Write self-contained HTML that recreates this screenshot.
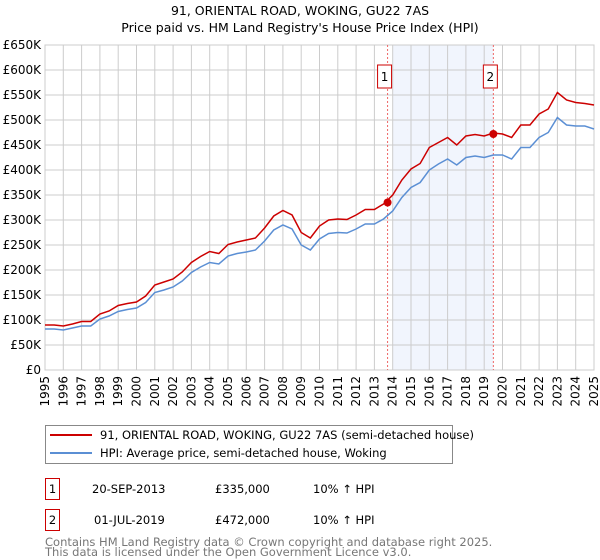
<!DOCTYPE html>
<html><head><meta charset="utf-8"><style>
body{margin:0;background:#fff;font-family:"Liberation Sans","DejaVu Sans",sans-serif;}
#wrap{position:relative;width:600px;height:560px;overflow:hidden;}
</style></head><body><div id="wrap">
<svg id="c" width="600" height="560" style="position:absolute;left:0;top:0;font-family:'DejaVu Sans','Liberation Sans',sans-serif"></svg>
</div>
<script>
const years=[1995,1995.5,1996,1996.5,1997,1997.5,1998,1998.5,1999,1999.5,2000,2000.5,2001,2001.5,2002,2002.5,2003,2003.5,2004,2004.5,2005,2005.5,2006,2006.5,2007,2007.5,2008,2008.5,2009,2009.5,2010,2010.5,2011,2011.5,2012,2012.5,2013,2013.5,2014,2014.5,2015,2015.5,2016,2016.5,2017,2017.5,2018,2018.5,2019,2019.5,2020,2020.5,2021,2021.5,2022,2022.5,2023,2023.5,2024,2024.5,2025];
const hpiValues=[82,82,80,84,88,88,102,108,117,121,124,135,155,160,166,178,195,206,215,212,228,233,236,240,258,280,290,282,250,240,262,273,275,274,282,292,292,302,318,345,365,375,400,412,422,410,425,428,425,430,430,422,445,445,465,475,505,490,488,488,482];
const priceValues=[90,90,88,92,97,97,112,118,129,133,136,148,170,176,182,196,215,227,237,233,251,256,260,264,284,308,319,310,275,264,288,300,302,301,310,321,321,332,350,380,402,413,445,455,465,450,468,471,468,474,472,465,490,490,512,522,555,540,535,533,530];
const yTicks=[0,50,100,150,200,250,300,350,400,450,500,550,600,650];
const yTickLabels=["£0","£50K","£100K","£150K","£200K","£250K","£300K","£350K","£400K","£450K","£500K","£550K","£600K","£650K"];
const xTicks=[1995,1996,1997,1998,1999,2000,2001,2002,2003,2004,2005,2006,2007,2008,2009,2010,2011,2012,2013,2014,2015,2016,2017,2018,2019,2020,2021,2022,2023,2024,2025];
const saleYears=[2013.72,2019.5];
const saleValues=[335,472];
const saleLabels=["1","2"];

const L=45,R=594,T=45,B=370;
const X=y=>L+(y-1995)/30*(R-L);
const Y=v=>B-v/650*(B-T);
const NS="http://www.w3.org/2000/svg";
const svg=document.getElementById('c');
function mk(t,a,p){const e=document.createElementNS(NS,t);for(const k in a)e.setAttribute(k,a[k]);(p||svg).appendChild(e);return e;}

let t=mk('text',{x:300,y:15,'text-anchor':'middle','font-size':12.5,fill:'#000'});t.textContent='91, ORIENTAL ROAD, WOKING, GU22 7AS';

t=mk('text',{x:300,y:32,'text-anchor':'middle','font-size':12.5,fill:'#000'});t.textContent="Price paid vs. HM Land Registry's House Price Index (HPI)";


let sh=mk('rect',{x:X(2014),y:T,width:X(saleYears[1])-X(2014),height:B-T,fill:'#eef3fc',opacity:0.8});


yTicks.forEach((v,i)=>{
 let g=mk('line',{x1:L,x2:R,y1:Y(v),y2:Y(v),stroke:'#ccc','stroke-width':1});
 
 let tx=mk('text',{x:L-4,y:Y(v)+4,'text-anchor':'end','font-size':12,fill:'#000'});tx.textContent=yTickLabels[i];
 
});
xTicks.forEach(yr=>{
 let g=mk('line',{x1:X(yr),x2:X(yr),y1:T,y2:B,stroke:'#ccc','stroke-width':1});
 
 let tx=mk('text',{x:0,y:0,'text-anchor':'end','font-size':12,fill:'#000',transform:`translate(${X(yr)+4},${B+6}) rotate(-90)`});tx.textContent=yr;
 
});
let ax=mk('rect',{x:L,y:T,width:R-L,height:B-T,fill:'none',stroke:'#ccc'});


saleYears.forEach((yr,i)=>{
 let l=mk('line',{x1:X(yr),x2:X(yr),y1:T,y2:B,stroke:'#e66','stroke-width':1,'stroke-dasharray':'2,2'});
 
 let r=mk('rect',{x:X(yr)-10,y:65,width:14,height:23,fill:'#fff',stroke:'#c00'});
 
 let tx=mk('text',{x:X(yr)-3,y:81,'text-anchor':'middle','font-size':12,fill:'#000'});tx.textContent=saleLabels[i];
 
});

let hp=mk('polyline',{points:years.map((y,i)=>X(y)+','+Y(hpiValues[i])).join(' '),fill:'none',stroke:'#5b8fd4','stroke-width':1.5});

let pp=mk('polyline',{points:years.map((y,i)=>X(y)+','+Y(priceValues[i])).join(' '),fill:'none',stroke:'#cc0000','stroke-width':1.5});

saleYears.forEach((yr,i)=>{
 let c=mk('circle',{cx:X(yr),cy:Y(saleValues[i]),r:4,fill:'#cc0000'});
 
});

// legend
let lg=mk('rect',{x:45.5,y:425.5,width:407,height:38,fill:'#fff',stroke:'#888'});

let ll=mk('line',{x1:50,x2:92,y1:435,y2:435,stroke:'#cc0000','stroke-width':2});

t=mk('text',{x:100,y:439,'font-size':11.5,fill:'#000'});t.textContent='91, ORIENTAL ROAD, WOKING, GU22 7AS (semi-detached house)';

ll=mk('line',{x1:50,x2:92,y1:453,y2:453,stroke:'#5b8fd4','stroke-width':2});

t=mk('text',{x:100,y:457,'font-size':11.5,fill:'#000'});t.textContent='HPI: Average price, semi-detached house, Woking';


// table
const rows=[["1","20-SEP-2013","£335,000","10% ↑ HPI",478,92],["2","01-JUL-2019","£472,000","10% ↑ HPI",509,94]];
rows.forEach(r=>{
 let b=mk('rect',{x:45.5,y:r[4]+0.5,width:14,height:21,fill:'#fff',stroke:'#c00'});
 
 let tx=mk('text',{x:52.5,y:r[4]+15,'text-anchor':'middle','font-size':11.5});tx.textContent=r[0];
 
 tx=mk('text',{x:r[5],y:r[4]+15,'font-size':11.5});tx.textContent=r[1];
 
 tx=mk('text',{x:215,y:r[4]+15,'font-size':11.5});tx.textContent=r[2];
 
 tx=mk('text',{x:313,y:r[4]+15,'font-size':11.5});tx.textContent=r[3];
 
});
t=mk('text',{x:45,y:546,'font-size':11.5,fill:'#777'});t.textContent='Contains HM Land Registry data © Crown copyright and database right 2025.';

t=mk('text',{x:45,y:556,'font-size':11.5,fill:'#777'});t.textContent='This data is licensed under the Open Government Licence v3.0.';

</script></body></html>
